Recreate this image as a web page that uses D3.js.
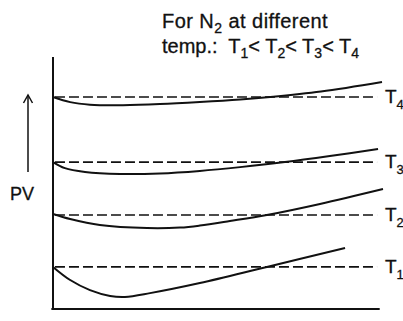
<!DOCTYPE html>
<html>
<head>
<meta charset="utf-8">
<script src="https://cdn.jsdelivr.net/npm/d3@7"></script>
<style>
  html, body { margin: 0; padding: 0; background: #fff; }
  svg { display: block; }
  text { font-family: "Liberation Sans", Arial, sans-serif; fill: #111; white-space: pre; }
</style>
</head>
<body>
<svg id="chart" width="403" height="321"></svg>
<script>
// ---- data (P in arbitrary units 0..100, PV in arbitrary units 0..100) ----
const seriesNames = ["T1", "T2", "T3", "T4"];
const idealPV = [16.7, 37.3, 58.3, 84.1];     // dashed ideal-gas levels
const xT4 = [0, 5.2, 11.2, 21.2, 32.4, 44.5, 56.7, 65.8, 81.2, 99.7];
const yT4 = [84.1, 82.1, 81.1, 80.9, 81.3, 82.1, 83.1, 84.1, 86.3, 90.1];
const xT3 = [0, 3.6, 9.7, 20.3, 32.4, 44.5, 56.7, 70.3, 83.9, 98.5];
const yT3 = [58.3, 55.9, 54.4, 53.6, 53.8, 54.8, 56.3, 58.3, 60.7, 63.5];
const xT2 = [0, 5.2, 14.2, 28.5, 38.5, 44.5, 53.6, 64.8, 80.9, 100];
const yT2 = [37.7, 35.7, 33.3, 32.1, 32.3, 33.1, 34.9, 37.3, 41.7, 47.6];
const xT1 = [0, 5.2, 11.2, 17.3, 21.8, 29.4, 44.5, 64.8, 88.5];
const yT1 = [16.7, 11.5, 7.5, 5.2, 4.8, 6.3, 10.3, 16.7, 24.2];
const curveXs = [xT1, xT2, xT3, xT4];
const curveYs = [yT1, yT2, yT3, yT4];
const subscripts = ["1", "2", "3", "4"];

const svg = d3.select("#chart");
const x = d3.scaleLinear().domain([0, 100]).range([53, 383]);
const y = d3.scaleLinear().domain([0, 100]).range([309, 57]);

const g = svg.append("g");
g.append("line").attr("x1", x(0)).attr("x2", x(0))
  .attr("y1", y(100)).attr("y2", y(0))
  .attr("stroke", "#111").attr("stroke-width", 2);
g.append("line").attr("x1", x(-0.5)).attr("x2", x(99))
  .attr("y1", y(0)).attr("y2", y(0))
  .attr("stroke", "#111").attr("stroke-width", 2.2);

g.selectAll("line.ideal").data(idealPV).join("line")
  .attr("class", "ideal")
  .attr("x1", x(0.6)).attr("x2", x(98.2))
  .attr("y1", d => y(d)).attr("y2", d => y(d))
  .attr("stroke", "#111").attr("stroke-width", 1.6)
  .attr("stroke-dasharray", "10,4");

const line = d3.line().x(d => x(d[0])).y(d => y(d[1])).curve(d3.curveCatmullRom.alpha(0.5));
curveXs.forEach((xs, i) => {
  const pts = xs.map((v, j) => [v, curveYs[i][j]]);
  g.append("path").attr("d", line(pts))
    .attr("fill", "none").attr("stroke", "#111").attr("stroke-width", 2);
});

idealPV.forEach((v, i) => {
  const t = g.append("text").attr("x", x(100) + 2).attr("y", y(v) + 6)
    .attr("font-size", 19).attr("stroke", "#111").attr("stroke-width", 0.3);
  t.append("tspan").text("T");
  t.append("tspan").attr("font-size", 13).attr("dy", 6).text(subscripts[i]);
});

g.append("text").attr("x", 22).attr("y", 200).attr("text-anchor", "middle")
  .attr("font-size", 18).attr("stroke", "#111").attr("stroke-width", 0.3).text("PV");
g.append("line").attr("x1", 28).attr("x2", 28).attr("y1", 172).attr("y2", 95)
  .attr("stroke", "#111").attr("stroke-width", 1.5);
g.append("path").attr("d", "M23.5,103 L28,95 L32.5,103")
  .attr("fill", "none").attr("stroke", "#111").attr("stroke-width", 1.5);

const t1 = g.append("text").attr("x", 162).attr("y", 28).attr("font-size", 20)
  .attr("letter-spacing", 0.45)
  .attr("stroke", "#111").attr("stroke-width", 0.3);
t1.append("tspan").text("For N");
t1.append("tspan").attr("font-size", 14).attr("dy", 5).text("2");
t1.append("tspan").attr("dy", -5).text(" at different");

const t2 = g.append("text").attr("x", 162).attr("y", 53).attr("font-size", 20)
  .attr("stroke", "#111").attr("stroke-width", 0.3);
t2.append("tspan").text("temp.:  T");
const rel = [["1", "< T"], ["2", "< T"], ["3", "< T"], ["4", ""]];
rel.forEach(([s, r]) => {
  t2.append("tspan").attr("font-size", 14).attr("dy", 5).text(s);
  if (r) t2.append("tspan").attr("dy", -5).text(r);
});
</script>
</body>
</html>
